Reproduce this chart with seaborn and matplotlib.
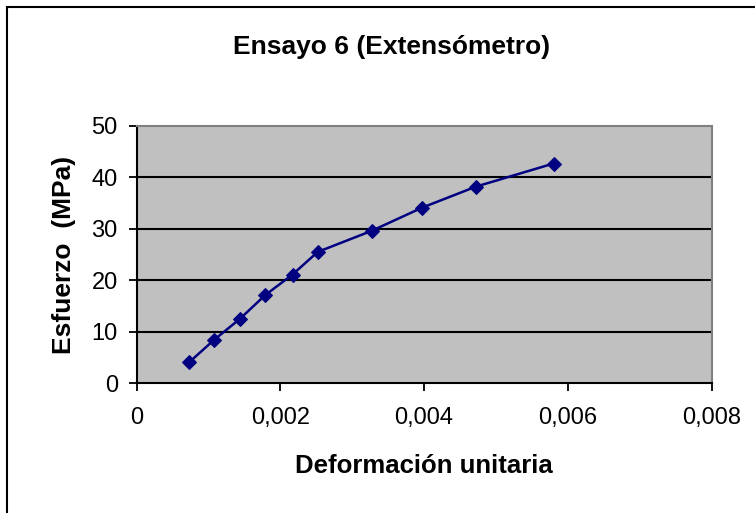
import matplotlib
matplotlib.use('Agg')
import matplotlib.pyplot as plt
import matplotlib.patches as patches
from matplotlib.ticker import FuncFormatter
import pandas as pd
import seaborn as sns

# datos
deformacion = [0.00073, 0.00108, 0.00144, 0.00179, 0.00217, 0.00252, 0.00327, 0.00397, 0.00472, 0.00580]
esfuerzo = [4.0, 8.4, 12.5, 17.1, 21.1, 25.5, 29.6, 34.1, 38.2, 42.7]

x_ticks = [0, 0.002, 0.004, 0.006, 0.008]
y_ticks = [0, 10, 20, 30, 40, 50]


def coma_decimal(v, pos):
    if abs(v) < 1e-12:
        return '0'
    return f'{v:.3f}'.replace('.', ',')


def plot_ensayo():
    df = pd.DataFrame({'Deformacion': deformacion, 'Esfuerzo': esfuerzo})

    sns.set_style('white')
    plt.rcParams['font.family'] = ['Liberation Sans', 'DejaVu Sans']
    plt.rcParams['text.color'] = 'black'
    plt.rcParams['axes.labelcolor'] = 'black'

    fig = plt.figure(figsize=(7.55, 5.13), dpi=100)
    ax = fig.add_axes([136.5 / 755, 1 - 383 / 513, (711.7 - 136.5) / 755, (383 - 126) / 513])
    ax.set_facecolor('#C0C0C0')

    sns.lineplot(data=df, x='Deformacion', y='Esfuerzo', ax=ax, sort=False,
                 color='#000080', linewidth=1.8, marker='D', markersize=7.5,
                 markeredgecolor='#000080', zorder=3)

    ax.set_xlim(x_ticks[0], x_ticks[-1])
    ax.set_ylim(y_ticks[0], y_ticks[-1])
    ax.set_xticks(x_ticks)
    ax.set_yticks(y_ticks)
    ax.xaxis.set_major_formatter(FuncFormatter(coma_decimal))

    for v in y_ticks[1:-1]:
        ax.axhline(v, color='black', linewidth=1.5, zorder=1)

    for side in ['left', 'bottom']:
        ax.spines[side].set_color('black')
        ax.spines[side].set_linewidth(1.5)
    for side in ['top', 'right']:
        ax.spines[side].set_color('#808080')
        ax.spines[side].set_linewidth(1.5)
        ax.spines[side].set_visible(True)

    ax.tick_params(axis='both', direction='out', length=5.5, width=1.3,
                   color='black', labelsize=17, labelcolor='black')
    ax.tick_params(axis='x', pad=12, bottom=True)
    ax.tick_params(axis='y', pad=8, left=True)

    ax.set_xlabel('Deformación unitaria', fontsize=18.5, fontweight='bold',
                  labelpad=18, color='black')
    ax.set_ylabel('Esfuerzo  (MPa)', fontsize=19, fontweight='bold',
                  labelpad=11, color='black')
    fig.text(392 / 755, 1 - 47 / 513, 'Ensayo 6 (Extensómetro)', fontsize=19,
             fontweight='bold', color='black', ha='center', va='center')

    # marco exterior del grafico
    marco = patches.Rectangle((7 / 755, -0.02), 1.05, 1 - 7 / 513 + 0.02,
                              transform=fig.transFigure, fill=False,
                              edgecolor='black', linewidth=1.5)
    fig.patches.append(marco)

    fig.savefig('out.png', dpi=100)


if __name__ == '__main__':
    plot_ensayo()
